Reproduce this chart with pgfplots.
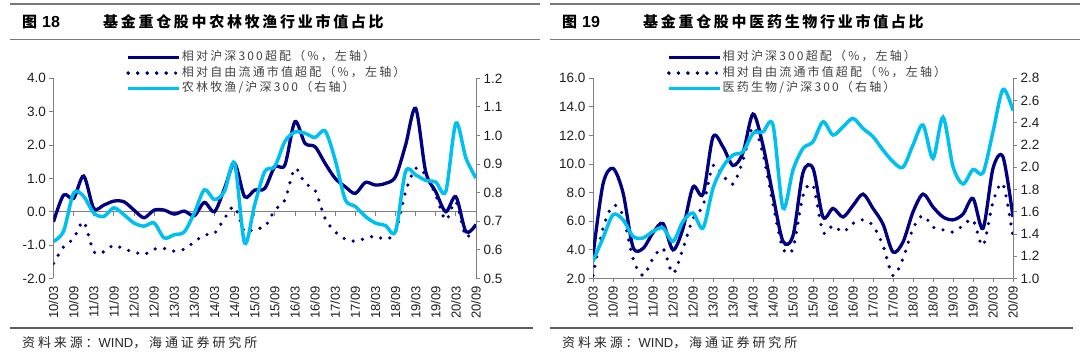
\documentclass[border=0pt]{standalone}
\usepackage{fontspec}
\setmainfont{Liberation Sans}
\newfontfamily\cjk{Noto Sans CJK SC}
\newfontfamily\cjkls[LetterSpace=18]{Noto Sans CJK SC}
\newfontfamily\cjksrc[LetterSpace=22]{Noto Sans CJK SC}
\newfontfamily\cjktitle[LetterSpace=18]{Noto Sans CJK SC}
\usepackage{pgfplots}
\usepackage{pgfplotstable}
\pgfplotsset{compat=1.18}

\definecolor{navy}{RGB}{0,0,128}
\definecolor{sky}{RGB}{0,192,240}
\definecolor{axgrey}{RGB}{128,128,128}
\definecolor{txt}{RGB}{30,30,30}
\definecolor{rule}{RGB}{120,120,120}

\pgfplotstableread{
i a b c
0 -0.30 -1.55 0.630
1 0.50 -1.05 0.665
2 0.40 -0.80 0.799
3 1.07 -0.30 0.787
4 0.10 -1.20 0.729
5 0.20 -1.20 0.717
6 0.32 -1.00 0.747
7 0.30 -1.12 0.723
8 0.05 -1.20 0.694
9 -0.18 -1.28 0.683
10 0.05 -1.12 0.694
11 0.05 -1.10 0.642
12 -0.07 -1.18 0.653
13 0.02 -1.12 0.663
14 -0.12 -0.90 0.729
15 0.28 -0.70 0.810
16 0.00 -0.65 0.776
17 0.70 -0.20 0.805
18 1.45 0.15 0.903
19 0.45 -0.60 0.624
20 0.65 -0.50 0.758
21 0.70 -0.45 0.874
22 1.35 0.05 0.892
23 1.40 0.35 0.979
24 2.70 1.30 1.012
25 2.05 0.85 1.008
26 1.95 0.65 0.993
27 1.45 -0.20 1.016
28 1.00 -0.60 0.915
29 0.75 -0.82 0.776
30 0.55 -0.88 0.752
31 0.88 -0.80 0.717
32 0.80 -0.73 0.694
33 0.85 -0.82 0.685
34 1.05 -0.60 0.665
35 2.00 0.60 0.874
36 3.10 1.30 0.862
37 1.20 1.10 0.843
38 0.60 0.50 0.837
39 0.00 -0.25 0.805
40 0.45 0.30 1.043
41 -0.60 -0.75 0.921
42 -0.38 -0.35 0.851
}\leftdata

\pgfplotstableread{
i a b c
0 3.6 2.2 1.155
1 8.6 5.5 1.364
2 9.7 7.1 1.573
3 8.0 6.4 1.528
4 4.2 3.4 1.379
5 4.1 2.2 1.364
6 5.2 3.4 1.424
7 5.85 4.1 1.454
8 4.0 2.35 1.334
9 5.5 4.1 1.513
10 8.4 6.2 1.588
11 7.9 7.1 1.454
12 11.9 9.9 1.812
13 11.2 9.2 2.006
14 9.9 8.6 2.110
15 10.8 10.25 2.140
16 13.5 12.6 2.304
17 11.3 10.7 2.319
18 7.8 7.2 2.379
19 4.6 4.1 1.633
20 5.0 4.1 1.976
21 9.4 7.8 2.170
22 9.7 8.5 2.230
23 6.3 5.25 2.409
24 6.9 5.7 2.290
25 6.3 5.25 2.364
26 7.1 5.85 2.439
27 7.9 6.1 2.349
28 6.9 5.7 2.275
29 5.8 4.3 2.155
30 3.85 2.2 2.050
31 4.55 3.4 2.000
32 6.65 5.5 2.200
33 7.9 6.4 2.380
34 7.0 5.6 2.080
35 6.3 5.4 2.450
36 6.1 5.25 2.006
37 6.5 5.7 1.850
38 7.6 6.1 1.980
39 5.5 4.3 1.950
40 9.7 7.35 2.320
41 10.5 8.6 2.700
42 6.3 4.9 2.510
}\rightdata

\pgfplotsset{
  base/.style={
    scale only axis, enlargelimits=false,
    xmin=0, xmax=42, xtick={0,2,...,42},
    tick align=outside, major tick length=4pt,
    every tick/.style={axgrey, line width=0.8pt},
    axis line style={axgrey, line width=0.8pt},
    tick label style={font=\fontsize{13.5}{14}\selectfont, text=txt},
    /pgf/number format/assume math mode=true,
    yticklabel style={/pgf/number format/.cd, fixed, fixed zerofill, precision=1},
    xticklabels={10/03,10/09,11/03,11/09,12/03,12/09,13/03,13/09,14/03,14/09,15/03,15/09,16/03,16/09,17/03,17/09,18/03,18/09,19/03,19/09,20/03,20/09},
    xticklabel style={rotate=90, anchor=east, font=\fontsize{13}{13}\selectfont},
  },
  s1/.style={navy, line width=3.3pt, smooth, tension=0.5},
  s2/.style={navy, line width=3.6pt, line cap=round, dash pattern=on 0pt off 9.5pt, smooth, tension=0.5},
  s3/.style={sky, line width=3.5pt, smooth, tension=0.5},
  leg/.style={
    legend style={at={(axis description cs:#1,1.143)}, anchor=north west, draw=none, fill=none,
      inner sep=0pt, row sep=0pt, font=\cjkls\fontsize{12}{12}\selectfont, text=black!75,
      nodes={inner sep=1pt, text height=10pt, text depth=3.5pt, anchor=west}},
    legend image code/.code={\draw[##1] (0pt,0pt) -- (45pt,0pt); \path (0pt,0pt) -- (51pt,0pt);},
    legend cell align=left,
  },
}

\begin{document}
\begin{tikzpicture}[x=1pt,y=1pt]
\useasboundingbox (0,0) rectangle (1080,358);

% ---------- left panel ----------
\begin{axis}[base, width=422.5pt, height=200.2pt, at={(53.5pt,79.5pt)}, anchor=south west,
  ymin=-2, ymax=4, ytick={-2,-1,...,4},
  axis y line*=left, axis x line*=middle,
  xticklabel style={opacity=0},
  leg=0.172]
\addplot[s1] table[x=i,y=a]{\leftdata};
\addlegendentry{相对沪深300超配（\%，左轴）}
\addplot[s2] table[x=i,y=b]{\leftdata};
\addlegendentry{相对自由流通市值超配（\%，左轴）}
\addlegendimage{s3}
\addlegendentry{农林牧渔/沪深300（右轴）}
\end{axis}
\begin{axis}[base, width=422.5pt, height=200.2pt, at={(53.5pt,79.5pt)}, anchor=south west,
  ymin=0.5, ymax=1.2, ytick={0.5,0.6,...,1.21},
  axis y line*=right, axis x line*=bottom,
  x axis line style={draw=none}, xtick style={draw=none}]
\addplot[s3] table[x=i,y=c]{\leftdata};
\end{axis}

% ---------- right panel ----------
\begin{axis}[base, width=420pt, height=200.2pt, at={(593pt,79.5pt)}, anchor=south west,
  ymin=2, ymax=16, ytick={2,4,...,16},
  axis y line*=left, axis x line*=bottom,
  leg=0.176]
\addplot[s1] table[x=i,y=a]{\rightdata};
\addlegendentry{相对沪深300超配（\%，左轴）}
\addplot[s2] table[x=i,y=b]{\rightdata};
\addlegendentry{相对自由流通市值超配（\%，左轴）}
\addlegendimage{s3}
\addlegendentry{医药生物/沪深300（右轴）}
\end{axis}
\begin{axis}[base, width=420pt, height=200.2pt, at={(593pt,79.5pt)}, anchor=south west,
  ymin=1, ymax=2.8, ytick={1,1.2,...,2.81},
  axis y line*=right, axis x line=none]
\addplot[s3] table[x=i,y=c]{\rightdata};
\end{axis}

% ---------- titles, rules, sources ----------
\foreach \ox/\num/\ttl/\rx in {0/18/基金重仓股中农林牧渔行业市值占比/540, 540/19/基金重仓股中医药生物行业市值占比/1080}{
  \draw[rule, line width=1.6pt] (\ox+10,354) -- (\rx,354);
  \draw[rule, line width=1.6pt] (\ox+10,318.5) -- (\rx,318.5);
  \draw[rule!120, line width=1.4pt] (\ox+10,30) -- (\ox+533,30);
  \node[anchor=west, inner sep=0pt] at (\ox+22,336.3) {{\cjk\bfseries\fontsize{15}{15}\selectfont 图}\hspace{5pt}{\bfseries\fontsize{16}{16}\selectfont \num}};
  \node[anchor=west, inner sep=0pt] at (\ox+103,336.3) {\cjktitle\bfseries\fontsize{15}{15}\selectfont \ttl};
  \node[anchor=west, inner sep=0pt, text=black!85] at (\ox+22,15) {\cjksrc\fontsize{13}{13}\selectfont 资料来源：{\rmfamily WIND}，海通证券研究所};
}
\end{tikzpicture}
\end{document}
